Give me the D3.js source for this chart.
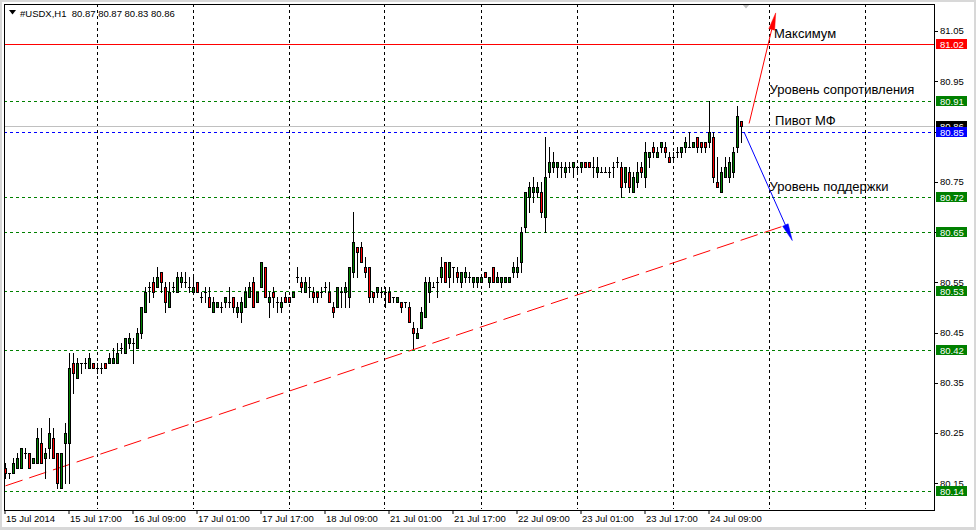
<!DOCTYPE html>
<html><head><meta charset="utf-8">
<script src="https://cdn.jsdelivr.net/npm/d3@7"></script>
<style>
html,body{margin:0;padding:0;background:#fff;}
svg{display:block;font-family:"Liberation Sans",Arial,sans-serif;}
</style>
</head><body>
<svg id="chart" width="976" height="530"></svg>
<script>
// ---------- DATA ----------
const symbolName = "#USDX,H1";
const openP = [80.18,80.17,80.17,80.18,80.18,80.21,80.21,80.19,80.19,80.23,80.20,80.22,80.24,80.21,80.14,80.23,80.23,80.39,80.36,80.39,
80.39,80.38,80.39,80.38,80.38,80.39,80.39,80.39,80.39,80.42,80.41,80.43,80.43,80.42,80.45,80.49,80.54,80.55,80.54,80.57,
80.54,80.50,80.54,80.53,80.55,80.55,80.54,80.53,80.55,80.52,80.53,80.52,80.49,80.50,80.50,80.51,80.51,80.52,80.49,80.49,
80.50,80.52,80.55,80.51,80.54,80.58,80.51,80.53,80.51,80.50,80.52,80.52,80.52,80.56,80.55,80.53,80.54,80.53,80.53,80.53,
80.54,80.53,80.50,80.50,80.53,80.53,80.52,80.57,80.62,80.62,80.58,80.58,80.53,80.53,80.53,80.53,80.53,80.52,80.51,80.51,
80.51,80.50,80.46,80.44,80.46,80.48,80.53,80.54,80.55,80.56,80.59,80.56,80.58,80.57,80.55,80.56,80.56,80.55,80.55,80.55,
80.57,80.55,80.58,80.55,80.55,80.55,80.55,80.57,80.57,80.59,80.66,80.72,80.73,80.73,80.73,80.68,80.77,80.78,80.78,80.78,
80.77,80.78,80.78,80.78,80.78,80.79,80.79,80.78,80.77,80.77,80.77,80.77,80.78,80.79,80.78,80.75,80.77,80.73,80.75,80.78,
80.76,80.80,80.82,80.80,80.82,80.82,80.80,80.80,80.81,80.81,80.82,80.82,80.82,80.84,80.83,80.83,80.83,80.84,80.75,80.73,
80.76,80.76,80.77,80.82,80.87];
const highP = [80.19,80.17,80.20,80.21,80.22,80.22,80.21,80.20,80.26,80.26,80.22,80.28,80.26,80.21,80.21,80.27,80.41,80.41,80.40,80.39,
80.40,80.41,80.39,80.39,80.39,80.39,80.41,80.42,80.43,80.43,80.44,80.45,80.44,80.46,80.50,80.54,80.55,80.56,80.58,80.57,
80.55,80.55,80.55,80.57,80.57,80.57,80.56,80.56,80.55,80.53,80.54,80.54,80.52,80.51,80.51,80.52,80.54,80.52,80.51,80.52,
80.54,80.55,80.56,80.53,80.59,80.58,80.53,80.54,80.52,80.52,80.53,80.52,80.53,80.58,80.56,80.56,80.56,80.54,80.53,80.54,
80.55,80.55,80.51,80.54,80.54,80.55,80.58,80.69,80.62,80.63,80.60,80.58,80.53,80.54,80.54,80.54,80.54,80.52,80.52,80.51,
80.51,80.51,80.47,80.46,80.50,80.56,80.56,80.55,80.56,80.60,80.59,80.59,80.58,80.58,80.57,80.58,80.57,80.56,80.56,80.56,
80.57,80.56,80.58,80.57,80.56,80.56,80.56,80.59,80.60,80.66,80.73,80.75,80.76,80.75,80.75,80.84,80.82,80.81,80.79,80.79,
80.79,80.79,80.79,80.78,80.79,80.79,80.79,80.80,80.80,80.78,80.78,80.78,80.79,80.80,80.79,80.78,80.78,80.77,80.79,80.79,
80.83,80.81,80.83,80.82,80.83,80.83,80.81,80.81,80.82,80.82,80.84,80.85,80.83,80.84,80.83,80.83,80.91,80.85,80.80,80.78,
80.80,80.80,80.82,80.90,80.87];
const lowP = [80.16,80.16,80.17,80.18,80.18,80.20,80.18,80.19,80.19,80.19,80.16,80.20,80.20,80.14,80.14,80.15,80.15,80.33,80.36,80.37,
80.38,80.38,80.38,80.37,80.37,80.38,80.39,80.39,80.39,80.41,80.41,80.42,80.39,80.42,80.44,80.49,80.51,80.52,80.54,80.53,
80.49,80.50,80.53,80.53,80.54,80.54,80.53,80.53,80.53,80.51,80.51,80.50,80.49,80.50,80.49,80.50,80.50,80.49,80.48,80.47,
80.50,80.52,80.50,80.51,80.54,80.52,80.48,80.50,80.49,80.49,80.51,80.51,80.52,80.55,80.53,80.53,80.52,80.51,80.51,80.52,
80.53,80.51,80.48,80.50,80.50,80.50,80.50,80.56,80.56,80.59,80.56,80.51,80.51,80.52,80.52,80.50,80.51,80.51,80.51,80.49,
80.50,80.47,80.42,80.44,80.46,80.48,80.51,80.54,80.52,80.55,80.55,80.54,80.55,80.55,80.54,80.55,80.55,80.54,80.54,80.55,
80.56,80.54,80.55,80.55,80.54,80.55,80.55,80.56,80.56,80.57,80.65,80.69,80.71,80.72,80.68,80.65,80.76,80.77,80.76,80.76,
80.76,80.77,80.76,80.77,80.77,80.78,80.78,80.76,80.76,80.77,80.77,80.76,80.76,80.78,80.72,80.74,80.73,80.73,80.74,80.76,
80.74,80.78,80.80,80.80,80.81,80.80,80.79,80.79,80.80,80.80,80.81,80.82,80.82,80.81,80.81,80.81,80.82,80.75,80.74,80.73,
80.76,80.75,80.76,80.81,80.83];
const closeP = [80.17,80.17,80.19,80.20,80.22,80.21,80.18,80.20,80.24,80.19,80.21,80.25,80.20,80.15,80.21,80.25,80.38,80.37,80.39,80.39,
80.39,80.40,80.38,80.38,80.38,80.38,80.40,80.40,80.41,80.42,80.44,80.44,80.43,80.45,80.50,80.53,80.54,80.53,80.56,80.55,
80.51,80.53,80.54,80.56,80.56,80.55,80.54,80.54,80.53,80.52,80.53,80.50,80.51,80.51,80.50,80.52,80.51,80.50,80.50,80.51,
80.53,80.54,80.50,80.53,80.59,80.52,80.52,80.52,80.51,80.51,80.51,80.51,80.53,80.56,80.54,80.55,80.54,80.52,80.52,80.53,
80.54,80.51,80.49,80.54,80.53,80.54,80.58,80.63,80.61,80.59,80.57,80.52,80.52,80.54,80.53,80.53,80.51,80.52,80.52,80.50,
80.51,80.47,80.45,80.45,80.49,80.55,80.55,80.54,80.55,80.58,80.55,80.59,80.58,80.56,80.57,80.57,80.56,80.56,80.56,80.56,
80.56,80.56,80.55,80.56,80.56,80.56,80.56,80.58,80.58,80.65,80.73,80.74,80.74,80.74,80.69,80.76,80.79,80.79,80.79,80.78,
80.78,80.78,80.79,80.78,80.79,80.78,80.78,80.78,80.78,80.77,80.77,80.77,80.78,80.79,80.74,80.78,80.74,80.76,80.77,80.77,
80.81,80.81,80.81,80.81,80.83,80.81,80.79,80.80,80.81,80.82,80.83,80.82,80.83,80.82,80.82,80.82,80.85,80.76,80.74,80.77,
80.78,80.79,80.81,80.88,80.86];

const priceTicks = [81.05,80.95,80.85,80.75,80.65,80.55,80.45,80.35,80.25,80.15];
const timeTickBars = [0,16,32,48,64,80,96,112,128,144,160,176];
const timeTickLabels = ["15 Jul 2014","15 Jul 17:00","16 Jul 09:00","17 Jul 01:00","17 Jul 17:00","18 Jul 09:00",
  "21 Jul 01:00","21 Jul 17:00","22 Jul 09:00","23 Jul 01:00","23 Jul 17:00","24 Jul 09:00"];
const dayGridBars = [23,47,71,95,119,143,167,191,215];

// horizontal levels
const levelNames  = ["max","resist","bid","pivot","support1","support2","support3","support4","support5"];
const levelValues = [81.024,80.911,80.860,80.849,80.719,80.651,80.533,80.415,80.135];
const levelLabels = ["81.02","80.91","80.86","80.85","80.72","80.65","80.53","80.42","80.14"];

// trend line (bar, price)
const trendBars = [0,194.9];
const trendPrices = [80.145,80.663];
// arrows (bar, price): tail -> tip
const arrowUpBars = [185.9,192.55], arrowUpPrices = [80.866,81.086];
const arrowDnBars = [184.7,196.7], arrowDnPrices = [80.848,80.633];
// annotations
const noteTexts  = ["Максимум","Уровень сопротивления","Пивот МФ","Уровень поддержки"];
const noteBars   = [192.1,191.0,192.4,191.0];
const notePrices = [81.036,80.925,80.862,80.732];

// ---------- STYLES ----------
const levelStyle = {
  max:{color:"#ff0000",dash:null,box:"#ff0000"},
  resist:{color:"#008000",dash:"3,3",box:"#008000"},
  bid:{color:"#c0c0c0",dash:null,box:"#000000"},
  pivot:{color:"#0000ff",dash:"3,3",box:"#0000ff"},
  support1:{color:"#008000",dash:"3,3",box:"#008000"},
  support2:{color:"#008000",dash:"3,3",box:"#008000"},
  support3:{color:"#008000",dash:"3,3",box:"#008000"},
  support4:{color:"#008000",dash:"3,3",box:"#008000"},
  support5:{color:"#008000",dash:"3,3",box:"#008000"}
};
const BULL="#008000", BEAR="#ff0000";

// ---------- SCALES ----------
const L=4, R=934, T=4, B=509;
const xs = d3.scaleLinear().domain([0,184]).range([5.5,741.5]);
const ys = d3.scaleLinear().domain([80.15,81.05]).range([483.3,31]);
const ry = v => Math.round(ys(v));

const svg = d3.select("#chart");
svg.append("rect").attr("width",976).attr("height",530).attr("fill","#fff");

const defs = svg.append("defs");
defs.append("clipPath").attr("id","plot").append("rect")
  .attr("x",L+1).attr("y",T+1).attr("width",R-L-1).attr("height",B-T-1);

const plot = svg.append("g").attr("clip-path","url(#plot)");

// vertical day grid
plot.selectAll("line.grid").data(dayGridBars).enter().append("line")
  .attr("x1",d=>Math.round(xs(d))-0.5+0.0).attr("x2",d=>Math.round(xs(d))-0.5)
  .attr("y1",T).attr("y2",B)
  .attr("stroke","#000").attr("stroke-width",1).attr("stroke-dasharray","3,3");

// trend line
plot.append("line")
  .attr("x1",xs(trendBars[0])).attr("y1",ys(trendPrices[0]))
  .attr("x2",xs(trendBars[1])).attr("y2",ys(trendPrices[1]))
  .attr("stroke","#ff0000").attr("stroke-width",1).attr("stroke-dasharray","18,7");

// level lines
levelValues.forEach((v,k)=>{
  const st = levelStyle[levelNames[k]];
  plot.append("line").attr("x1",L).attr("x2",R).attr("y1",ry(v)+0.5).attr("y2",ry(v)+0.5)
    .attr("stroke",st.color).attr("stroke-width",1)
    .attr("stroke-dasharray",st.dash);
});

// candles
const idx = d3.range(openP.length);
const cg = plot.append("g");
idx.forEach(i=>{
  const cx = xs(i);
  const o=openP[i], h=highP[i], l=lowP[i], c=closeP[i];
  cg.append("line").attr("x1",cx).attr("x2",cx)
    .attr("y1",ry(h)).attr("y2",ry(l)+1).attr("stroke","#000").attr("stroke-width",1);
  if (o===c) {
    cg.append("line").attr("x1",cx-1.5).attr("x2",cx+1.5)
      .attr("y1",ry(o)+0.5).attr("y2",ry(o)+0.5).attr("stroke","#000");
  } else {
    const top = ry(Math.max(o,c)), bot = ry(Math.min(o,c));
    cg.append("rect").attr("x",cx-1).attr("y",top+0.5).attr("width",2).attr("height",Math.max(1,bot-top))
      .attr("fill", c>o?BULL:BEAR).attr("stroke","#000").attr("stroke-width",1);
  }
});

// arrows
function arrow(bars,prices,color){
  const x1=xs(bars[0]), y1=ys(prices[0]), x2=xs(bars[1]), y2=ys(prices[1]);
  const ang=Math.atan2(y2-y1,x2-x1), len=17, hw=3;
  const bx=x2-len*Math.cos(ang), by=y2-len*Math.sin(ang);
  svg.append("line").attr("x1",x1).attr("y1",y1).attr("x2",bx).attr("y2",by)
    .attr("stroke",color).attr("stroke-width",1);
  const px=-Math.sin(ang), py=Math.cos(ang);
  svg.append("polygon")
    .attr("points",[[x2,y2],[bx+px*hw,by+py*hw],[bx-px*hw,by-py*hw]].map(p=>p.join(",")).join(" "))
    .attr("fill",color).attr("stroke",color).attr("stroke-width",0.5);
}
arrow(arrowUpBars,arrowUpPrices,"#ff0000");
arrow(arrowDnBars,arrowDnPrices,"#0000ff");

// annotations
noteTexts.forEach((t,k)=>{
  svg.append("text").attr("x",xs(noteBars[k])).attr("y",ys(notePrices[k]))
    .attr("font-size","13px").attr("fill","#000").text(t);
});

// shift marker
svg.append("polygon").attr("points","742,4 750,4 746,8.5").attr("fill","#c0c0c0");

// frame
svg.append("rect").attr("x",L+0.5).attr("y",T+0.5).attr("width",R-L).attr("height",B-T+1)
  .attr("fill","none").attr("stroke","#000").attr("stroke-width",1);

// header
svg.append("polygon").attr("points","9,10 16,10 12.5,14.5").attr("fill","#000");
svg.append("text").attr("x",20).attr("y",16.5).attr("font-size","9.5px").attr("fill","#000")
  .attr("xml:space","preserve").style("white-space","pre")
  .text(`${symbolName}  ${openP[184].toFixed(2)} ${highP[184].toFixed(2)} ${lowP[184].toFixed(2)} ${closeP[184].toFixed(2)}`);

// price axis
const pa = svg.append("g");
priceTicks.forEach(v=>{
  const y = ry(v)+0.5;
  pa.append("line").attr("x1",R+1).attr("x2",R+4).attr("y1",y).attr("y2",y).attr("stroke","#000");
  pa.append("text").attr("x",940).attr("y",ys(v)+3.3).attr("font-size","9.5px").attr("fill","#000").text(v.toFixed(2));
});
levelValues.forEach((v,k)=>{
  const st = levelStyle[levelNames[k]];
  const y = ys(v);
  pa.append("rect").attr("x",936).attr("y",Math.round(y)-5).attr("width",31).attr("height",10).attr("fill",st.box);
  pa.append("text").attr("x",940).attr("y",Math.round(y)+3.5).attr("font-size","9.5px").attr("fill","#fff").text(levelLabels[k]);
});

// time axis
timeTickBars.forEach((b,k)=>{
  const x = xs(b);
  svg.append("line").attr("x1",x-0.5).attr("x2",x-0.5).attr("y1",B+1).attr("y2",B+5).attr("stroke","#000");
  svg.append("text").attr("x",x+0.5).attr("y",522).attr("font-size","9.5px").attr("fill","#000").text(timeTickLabels[k]);
});

// window border
svg.append("rect").attr("x",0).attr("y",0).attr("width",976).attr("height",2).attr("fill","#d8d8d8");
svg.append("rect").attr("x",0).attr("y",0).attr("width",2).attr("height",530).attr("fill","#d8d8d8");
svg.append("rect").attr("x",974).attr("y",0).attr("width",2).attr("height",530).attr("fill","#d8d8d8");
svg.append("rect").attr("x",0).attr("y",527).attr("width",976).attr("height",3).attr("fill","#d8d8d8");
</script>
</body></html>
